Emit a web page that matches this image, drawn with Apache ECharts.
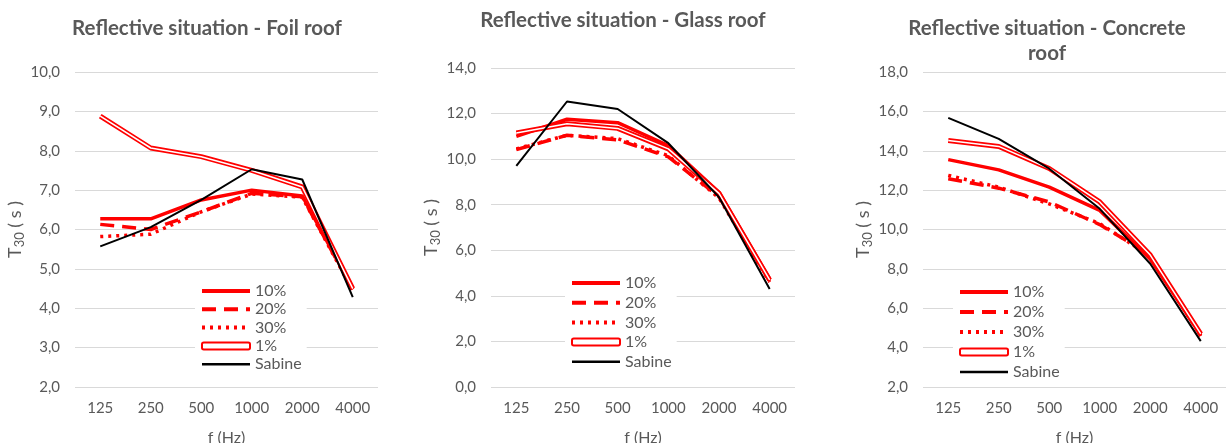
<!DOCTYPE html>
<html>
<head>
<meta charset="utf-8">
<script src="https://cdn.jsdelivr.net/npm/echarts@6/dist/echarts.min.js"></script>
<style>
  html, body { margin: 0; padding: 0; background: #fff; }
  #chart { width: 1227px; height: 443px; }
</style>
</head>
<body>
<div id="chart"></div>
<script>
// frequency bands (x axis)
const freqs = ['125', '250', '500', '1000', '2000', '4000'];

// Foil roof
const foil10 = [6.27, 6.27, 6.75, 7.0, 6.85, 4.5];
const foil20 = [6.13, 6.0, 6.45, 6.92, 6.83, 4.48];
const foil30 = [5.82, 5.88, 6.45, 6.9, 6.82, 4.45];
const foil1 = [8.88, 8.07, 7.85, 7.5, 7.08, 4.5];
const foilSabine = [5.57, 6.06, 6.75, 7.53, 7.27, 4.28];

// Glass roof
const glass10 = [11.0, 11.75, 11.6, 10.6, 8.55, 4.75];
const glass20 = [10.42, 11.05, 10.85, 10.1, 8.35, 4.65];
const glass30 = [10.45, 11.05, 10.9, 10.15, 8.3, 4.6];
const glass1 = [11.15, 11.55, 11.35, 10.45, 8.5, 4.7];
const glassSabine = [9.7, 12.53, 12.2, 10.7, 8.33, 4.3];

// Concrete roof
const concrete10 = [13.55, 13.03, 12.15, 10.97, 8.5, 4.65];
const concrete20 = [12.58, 12.1, 11.4, 10.25, 8.7, 4.6];
const concrete30 = [12.75, 12.15, 11.3, 10.3, 8.65, 4.6];
const concrete1 = [14.52, 14.22, 13.1, 11.4, 8.7, 4.7];
const concreteSabine = [15.67, 14.6, 13.09, 11.05, 8.26, 4.33];

const textColor = '#595959';
const font = 'Lato, "Open Sans", sans-serif';

const panels = [
  { title: 'Reflective situation - Foil roof', titleX: 207, titleY: 16,
    grid: { left: 75, top: 72, width: 303, height: 315 }, min: 2, max: 10, interval: 1,
    legend: { left: 195, top: 278, itemGap: 2.3 },
    data: [foil10, foil20, foil30, foil1, foilSabine] },
  { title: 'Reflective situation - Glass roof', titleX: 623, titleY: 8,
    grid: { left: 491, top: 68, width: 304, height: 319 }, min: 0, max: 14, interval: 2,
    legend: { left: 565, top: 270, itemGap: 3.7 },
    data: [glass10, glass20, glass30, glass1, glassSabine] },
  { title: 'Reflective situation - Concrete\nroof', titleX: 1047, titleY: 16,
    grid: { left: 923, top: 72, width: 303, height: 315 }, min: 2, max: 18, interval: 2,
    legend: { left: 953, top: 279, itemGap: 4 },
    data: [concrete10, concrete20, concrete30, concrete1, concreteSabine] }
];

const title = [], grid = [], xAxis = [], yAxis = [], legend = [], series = [];

panels.forEach((p, i) => {
  title.push({
    text: p.title, left: p.titleX, top: p.titleY, textAlign: 'center', padding: 0,
    textStyle: { color: textColor, fontFamily: font, fontSize: 20.5, fontWeight: 'bold', lineHeight: 25 }
  });
  grid.push({ ...p.grid, outerBoundsMode: 'none', containLabel: false });
  xAxis.push({
    type: 'category', gridIndex: i, data: freqs,
    name: 'f (Hz)', nameLocation: 'middle', nameGap: 43,
    nameTextStyle: { color: textColor, fontFamily: font, fontSize: 16 },
    axisLine: { show: false }, axisTick: { show: false },
    axisLabel: { color: textColor, fontFamily: font, fontSize: 15, margin: 14 }
  });
  yAxis.push({
    type: 'value', gridIndex: i, min: p.min, max: p.max, interval: p.interval,
    name: '{t|T}{s|30}{t| ( s )}', nameLocation: 'middle', nameGap: 47, nameRotate: 90,
    nameTextStyle: {
      rich: {
        t: { color: textColor, fontFamily: font, fontSize: 18 },
        s: { color: textColor, fontFamily: font, fontSize: 13, padding: [10, 0, 0, 0] }
      }
    },
    axisLine: { show: false }, axisTick: { show: false },
    splitLine: { lineStyle: { color: '#d9d9d9', width: 1 } },
    axisLabel: {
      color: textColor, fontFamily: font, fontSize: 15, margin: 15,
      formatter: v => v.toFixed(1).replace('.', ',')
    }
  });
  legend.push({
    orient: 'vertical', left: p.legend.left, top: p.legend.top, itemGap: p.legend.itemGap,
    itemWidth: 48, itemHeight: 7, padding: 5, backgroundColor: '#fff',
    selectedMode: false,
    itemStyle: { opacity: 0 },
    textStyle: { color: textColor, fontFamily: font, fontSize: 16 },
    data: [
      { name: '10%', lineStyle: { width: 4 } },
      { name: '20%', lineStyle: { width: 4 } },
      { name: '30%', lineStyle: { width: 4 } },
      { name: '1%', icon: 'roundRect', itemStyle: { color: '#fff', borderColor: '#ff0000', borderWidth: 2, opacity: 1 } },
      { name: 'Sabine', lineStyle: { width: 2.5 } }
    ]
  });
  const base = { type: 'line', xAxisIndex: i, yAxisIndex: i, symbol: 'none', silent: true };
  series.push(
    { ...base, name: '10%', data: p.data[0], lineStyle: { color: '#ff0000', width: 3.5 }, itemStyle: { color: '#ff0000' } },
    { ...base, name: '20%', data: p.data[1], lineStyle: { color: '#ff0000', width: 3.5, type: [14, 8] }, itemStyle: { color: '#ff0000' } },
    { ...base, name: '30%', data: p.data[2], lineStyle: { color: '#ff0000', width: 3.5, type: [3, 5] }, itemStyle: { color: '#ff0000' } },
    { ...base, name: '1%', data: p.data[3], lineStyle: { color: '#ff0000', width: 5 }, itemStyle: { color: '#ff0000' } },
    { ...base, name: '1% inner', data: p.data[3], lineStyle: { color: '#ffffff', width: 1.5 }, itemStyle: { color: '#ffffff' } },
    { ...base, name: 'Sabine', data: p.data[4], lineStyle: { color: '#000000', width: 2 }, itemStyle: { color: '#000000' } }
  );
});

const chart = echarts.init(document.getElementById('chart'));
chart.setOption({
  animation: false,
  backgroundColor: '#fff',
  title, grid, xAxis, yAxis, legend, series
});
</script>
</body>
</html>
